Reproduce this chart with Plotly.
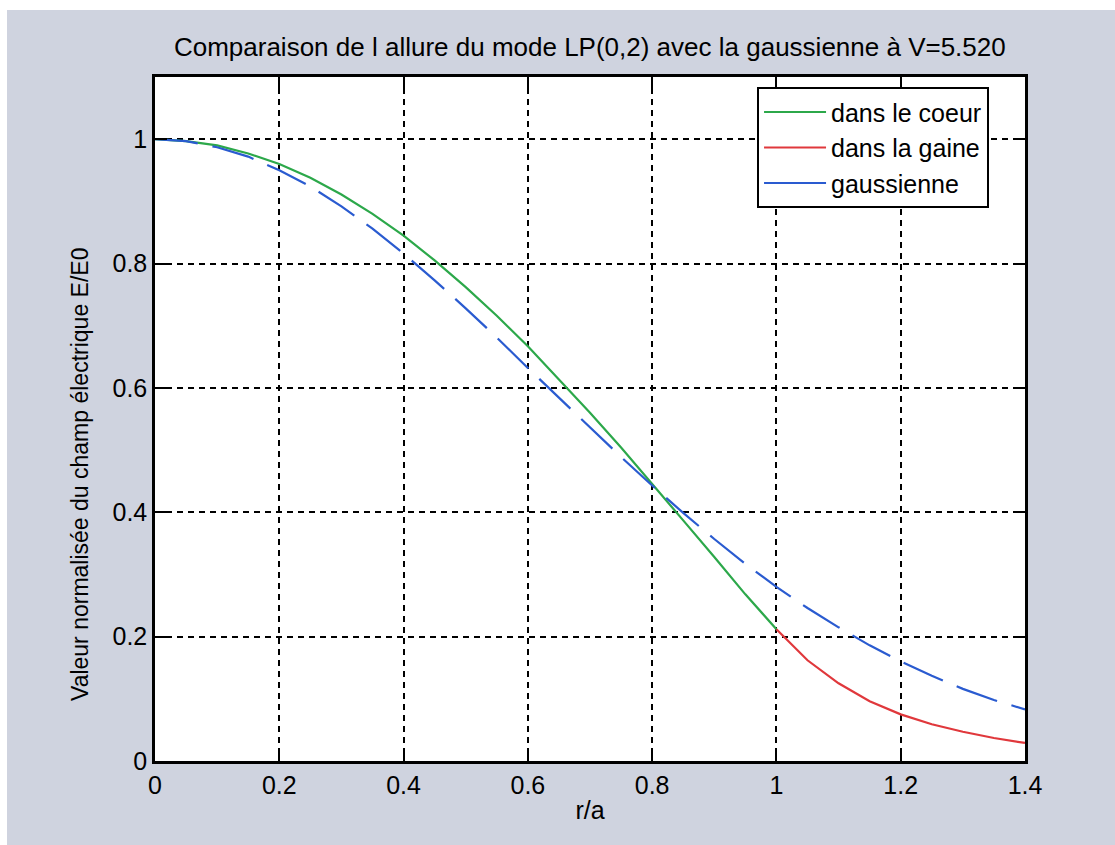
import plotly.graph_objects as go

# r/a sample points
r_core = [0.00, 0.05, 0.10, 0.15, 0.20, 0.25, 0.30, 0.35, 0.40, 0.45, 0.50,
          0.55, 0.60, 0.65, 0.70, 0.75, 0.80, 0.85, 0.90, 0.95, 1.00]
e_core = [1.000, 0.997, 0.990, 0.977, 0.960, 0.938, 0.911, 0.880, 0.845, 0.805, 0.762,
          0.716, 0.667, 0.614, 0.560, 0.504, 0.446, 0.387, 0.328, 0.268, 0.212]

r_gaine = [1.00, 1.05, 1.10, 1.15, 1.20, 1.25, 1.30, 1.35, 1.40]
e_gaine = [0.212, 0.162, 0.125, 0.096, 0.075, 0.059, 0.047, 0.037, 0.029]

r_gauss = [0.00, 0.05, 0.10, 0.15, 0.20, 0.25, 0.30, 0.35, 0.40, 0.45, 0.50,
           0.55, 0.60, 0.65, 0.70, 0.75, 0.80, 0.85, 0.90, 0.95, 1.00,
           1.05, 1.10, 1.15, 1.20, 1.25, 1.30, 1.35, 1.40]
e_gauss = [1.000, 0.997, 0.987, 0.972, 0.950, 0.924, 0.892, 0.856, 0.816, 0.773, 0.728,
           0.681, 0.632, 0.584, 0.536, 0.489, 0.443, 0.399, 0.357, 0.317, 0.280,
           0.246, 0.215, 0.186, 0.160, 0.137, 0.116, 0.098, 0.083]

x_ticks = [0, 0.2, 0.4, 0.6, 0.8, 1.0, 1.2, 1.4]
x_labels = ["0", "0.2", "0.4", "0.6", "0.8", "1", "1.2", "1.4"]
y_ticks = [0, 0.2, 0.4, 0.6, 0.8, 1.0]
y_labels = ["0", "0.2", "0.4", "0.6", "0.8", "1"]

FONT = "Liberation Sans, Arial, Helvetica, sans-serif"
BG = "#cfd3df"
GREEN, RED, BLUE = "#2ca84a", "#e0383c", "#2a5bd0"

fig = go.Figure()
fig.add_trace(go.Scatter(x=r_core, y=e_core, mode="lines", name="dans le coeur",
                         line=dict(color=GREEN, width=2.2)))
fig.add_trace(go.Scatter(x=r_gaine, y=e_gaine, mode="lines", name="dans la gaine",
                         line=dict(color=RED, width=2.2)))
fig.add_trace(go.Scatter(x=r_gauss, y=e_gauss, mode="lines", name="gaussienne",
                         legendgroup="g", showlegend=False,
                         line=dict(color=BLUE, width=2.2, dash="43px,15px")))
# legend entry for the gaussian (solid short sample, as in the original legend)
fig.add_trace(go.Scatter(x=[None], y=[None], mode="lines", name="gaussienne",
                         legendgroup="g", hoverinfo="skip",
                         line=dict(color=BLUE, width=2.2)))

axis_common = dict(
    showline=True, linecolor="black", linewidth=2.5, mirror="ticks",
    ticks="inside", ticklen=12, tickwidth=2, tickcolor="black",
    showgrid=True, gridcolor="black", gridwidth=2, griddash="6px,5px",
    zeroline=False, tickfont=dict(family=FONT, size=25, color="black"),
)

fig.update_layout(
    width=1115, height=845,
    margin=dict(l=155, r=90, t=77, b=84),
    paper_bgcolor=BG, plot_bgcolor="white",
    font=dict(family=FONT, color="black"),
    title=dict(text="Comparaison de l allure du mode LP(0,2) avec la gaussienne à V=5.520",
               x=0.529, xanchor="center", y=0.945, yanchor="middle",
               font=dict(family=FONT, size=26, color="black")),
    xaxis=dict(range=[0, 1.4], tickvals=x_ticks, ticktext=x_labels,
               title=dict(text="r/a", font=dict(family=FONT, size=25), standoff=4),
               **axis_common),
    yaxis=dict(range=[0, 1.1], tickvals=y_ticks, ticktext=y_labels,
               **axis_common),
    legend=dict(x=0.692, y=0.985, xanchor="left", yanchor="top",
                bgcolor="white", bordercolor="black", borderwidth=2,
                font=dict(family=FONT, size=25, color="black"),
                itemwidth=62, tracegroupgap=0),
    showlegend=True,
)

# y-axis title (placed like the original, slightly below the axis centre)
fig.add_annotation(text="Valeur normalisée du champ électrique E/E0",
                   xref="paper", yref="paper", x=(80 - 155) / 870, y=(761 - 475) / 684,
                   xanchor="center", yanchor="middle", textangle=-90, showarrow=False,
                   font=dict(family=FONT, size=23, color="black"))

# white scan border at top and left of the page
fig.add_shape(type="rect", xref="paper", yref="paper",
              x0=-155/870, x1=(1115-155)/870, y0=(761-10)/684, y1=761/684,
              fillcolor="white", line=dict(width=0), layer="below")
fig.add_shape(type="rect", xref="paper", yref="paper",
              x0=-155/870, x1=(7-155)/870, y0=-84/684, y1=761/684,
              fillcolor="white", line=dict(width=0), layer="below")

fig.write_html("out.html")
